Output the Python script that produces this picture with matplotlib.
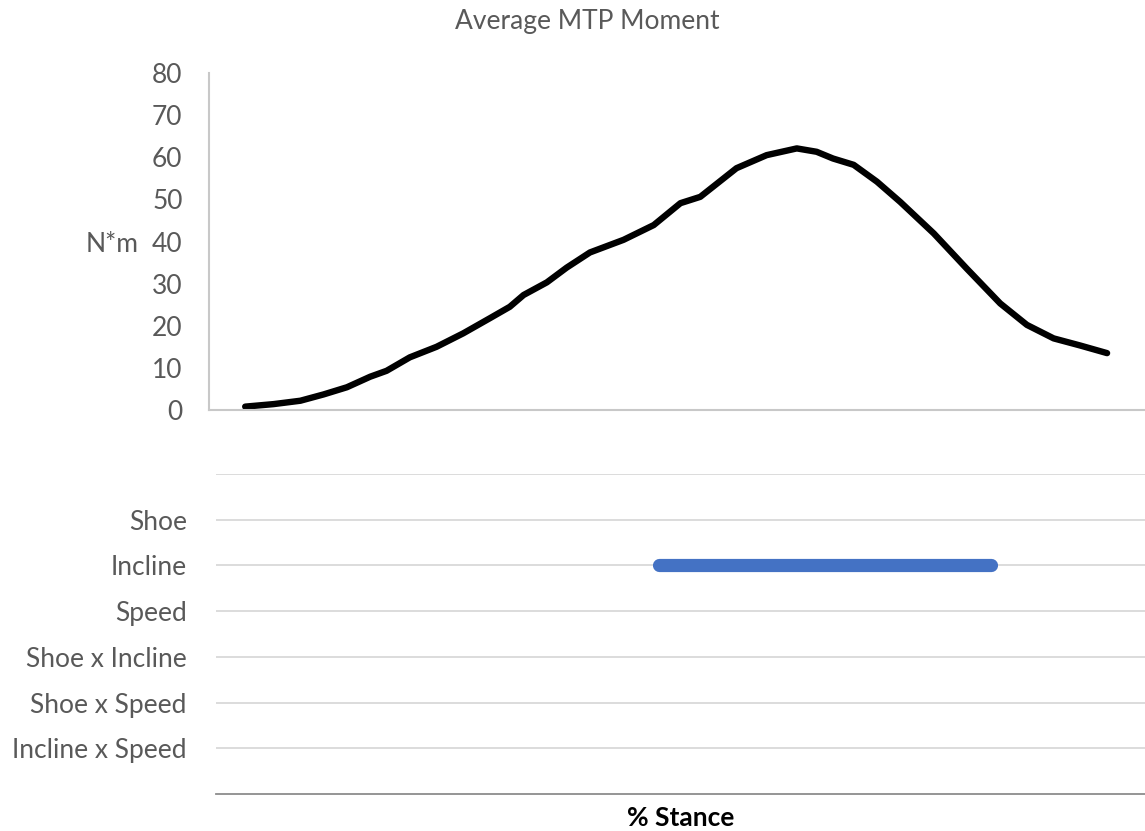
import matplotlib
matplotlib.use("Agg")
import matplotlib.pyplot as plt

plt.rcParams['font.family'] = ['Lato', 'DejaVu Sans']

# Average MTP moment over stance (% stance, N*m)
stance_pct = [0.0, 3.3, 6.4, 9.1, 11.8, 14.5, 16.4, 19.1, 22.2, 25.3, 28.4,
              30.7, 32.3, 35.0, 37.3, 40.0, 43.9, 47.4, 50.5, 52.8, 57.0,
              60.5, 64.0, 66.3, 68.2, 70.6, 73.3, 76.0, 79.9, 83.7, 87.6,
              90.7, 93.8, 96.9, 100.0]
moment_nm = [0.8, 1.4, 2.2, 3.7, 5.4, 7.9, 9.3, 12.5, 15.0, 18.2, 21.8,
             24.5, 27.3, 30.3, 33.8, 37.4, 40.4, 43.9, 49.1, 50.6, 57.4,
             60.5, 62.1, 61.3, 59.7, 58.2, 54.2, 49.4, 41.9, 33.6, 25.3,
             20.2, 17.0, 15.3, 13.5]

# Effects and the stance intervals where they are significant
effects = ["Shoe", "Incline", "Speed", "Shoe x Incline", "Shoe x Speed",
           "Incline x Speed"]
sig_start = [None, 48.0, None, None, None, None]
sig_end = [None, 86.5, None, None, None, None]

yticks_top = [0, 10, 20, 30, 40, 50, 60, 70, 80]

W, H = 1145, 831
fig = plt.figure(figsize=(W / 100, H / 100), dpi=100)

label_color = "#595959"
fs = 19

x_left = -4.2
x_right = 104.4

# Upper panel: moment curve
ax1 = fig.add_axes([209 / W, 1 - 410 / H, 1 - 209 / W, (410 - 73) / H])
ax1.plot(stance_pct, moment_nm, color="black", lw=4.6,
         solid_capstyle="round", solid_joinstyle="round")
ax1.set_xlim(x_left, x_right)
ax1.set_ylim(0, 80)
ax1.set_yticks(yticks_top)
ax1.set_yticklabels([str(v) for v in yticks_top])
ax1.set_xticks([])
ax1.tick_params(axis="y", length=0, pad=19, labelsize=fs, labelcolor=label_color)
for side in ("top", "right"):
    ax1.spines[side].set_visible(False)
for side in ("left", "bottom"):
    ax1.spines[side].set_color("#c8c8c8")
    ax1.spines[side].set_linewidth(1.5)
ax1.patch.set_alpha(0)

fig.text(139 / W, 1 - 245 / H, "N*m", ha="right", va="center",
         fontsize=fs, color=label_color)
fig.text(587 / W, 1 - 21 / H, "Average MTP Moment", ha="center", va="center",
         fontsize=fs, color=label_color)

# Lower panel: significance intervals per effect
x_off = (216 - 209) / (W - 209) * (x_right - x_left)
ax2 = fig.add_axes([216 / W, 1 - 794 / H, 1 - 216 / W, (794 - 474) / H])
ax2.set_xlim(x_left + x_off, x_right)
ax2.set_ylim(7, 0)
rows = list(range(1, len(effects) + 1))
for r in range(0, len(effects) + 1):
    ax2.axhline(r, color="#d9d9d9", lw=1.3, zorder=1)
for r, s, e in zip(rows, sig_start, sig_end):
    if s is not None:
        ax2.plot([s, e], [r, r], color="#4472C4", lw=9.5,
                 solid_capstyle="round", zorder=3)
ax2.set_yticks(rows)
ax2.set_yticklabels(effects)
ax2.set_xticks([])
ax2.tick_params(axis="y", length=0, pad=21, labelsize=fs, labelcolor=label_color)
for side in ("top", "right", "left"):
    ax2.spines[side].set_visible(False)
ax2.spines["bottom"].set_color("#8c8c8c")
ax2.spines["bottom"].set_linewidth(1.3)
ax2.set_xlabel("% Stance", fontsize=fs, fontweight="bold", color="black",
               labelpad=9)
ax2.patch.set_alpha(0)

fig.savefig("out.png", dpi=100, facecolor="white")
